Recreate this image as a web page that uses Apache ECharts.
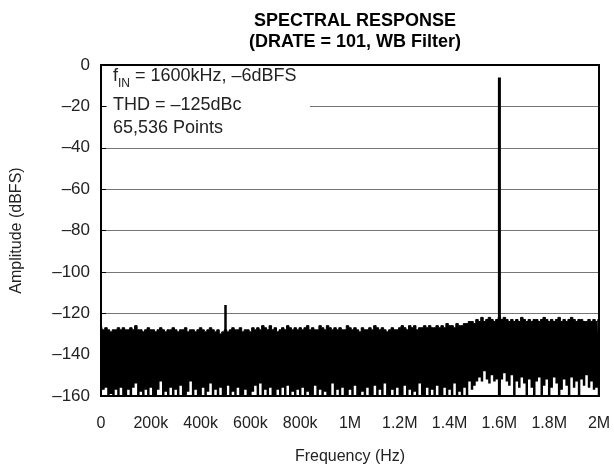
<!DOCTYPE html>
<html>
<head>
<meta charset="utf-8">
<script src="https://cdn.jsdelivr.net/npm/echarts@6/dist/echarts.min.js"></script>
<style>
  html, body { margin: 0; padding: 0; background: #fff; }
  #chart { width: 614px; height: 470px; }
</style>
</head>
<body>
<div id="chart"></div>
<script>
// Axis tick labels
const xTickValues = [0, 200000, 400000, 600000, 800000, 1000000, 1200000, 1400000, 1600000, 1800000, 2000000];
const xTickLabels = ['0', '200k', '400k', '600k', '800k', '1M', '1.2M', '1.4M', '1.6M', '1.8M', '2M'];
const yTickValues = [0, -20, -40, -60, -80, -100, -120, -140, -160];
const yTickLabels = ['0', '–20', '–40', '–60', '–80', '–100', '–120', '–140', '–160'];

// FFT noise floor, one reading every 10 kHz from 0 to 2 MHz (dBFS)
const binStepHz = 10000;
const noisePeak = [
  -125, -128, -127, -128, -129, -128, -128, -127, -128, -127,
  -128, -128, -127, -128, -126, -128, -128, -129, -128, -127,
  -128, -128, -129, -128, -127, -128, -129, -128, -128, -127,
  -128, -129, -128, -128, -127, -129, -128, -128, -129, -128,
  -127, -128, -129, -128, -127, -128, -129, -128, -130, -129,
  -128, -129, -128, -127, -128, -128, -127, -129, -128, -128,
  -129, -127, -128, -127, -128, -126, -127, -128, -126, -128,
  -127, -129, -128, -127, -128, -126, -127, -128, -127, -128,
  -127, -128, -127, -126, -128, -127, -128, -128, -126, -127,
  -128, -126, -127, -128, -127, -128, -127, -128, -128, -126,
  -127, -128, -127, -128, -129, -127, -128, -128, -127, -128,
  -126, -127, -128, -127, -128, -129, -128, -127, -128, -128,
  -127, -126, -127, -128, -126, -127, -126, -128, -127, -127,
  -126, -127, -126, -127, -127, -126, -127, -126, -127, -125,
  -126, -126, -127, -125, -126, -126, -125, -125, -124, -124,
  -125, -123, -124, -122, -124, -123, -122, -123, -124, -123,
  -122, -123, -122, -123, -124, -123, -124, -123, -124, -122,
  -123, -124, -123, -124, -123, -123, -124, -123, -122, -123,
  -124, -123, -124, -123, -122, -124, -123, -124, -123, -122,
  -123, -124, -123, -123, -124, -124, -123, -124, -123, -124,
  -123
];
const noiseTrough = [
  -160, -157, -156, -160, -159, -160, -157, -160, -156, -160,
  -160, -157, -160, -156, -154, -160, -158, -160, -157, -160,
  -156, -160, -160, -157, -153, -160, -158, -160, -156, -160,
  -157, -160, -155, -160, -160, -158, -153, -160, -157, -160,
  -160, -156, -160, -158, -154, -160, -157, -160, -156, -160,
  -160, -155, -160, -158, -160, -156, -160, -160, -157, -160,
  -160, -158, -155, -160, -154, -160, -157, -160, -156, -160,
  -160, -157, -160, -156, -160, -155, -160, -158, -160, -157,
  -160, -156, -160, -158, -160, -160, -155, -160, -157, -160,
  -158, -160, -160, -154, -160, -157, -160, -156, -160, -160,
  -157, -160, -155, -160, -160, -158, -160, -156, -160, -160,
  -155, -160, -157, -160, -154, -160, -160, -157, -160, -156,
  -160, -160, -155, -160, -157, -160, -158, -160, -154, -160,
  -160, -156, -160, -157, -160, -155, -160, -160, -156, -160,
  -157, -160, -154, -160, -158, -160, -156, -160, -153, -157,
  -155, -153, -151, -153, -148, -152, -154, -150, -153, -152,
  -154, -152, -149, -153, -155, -150, -160, -153, -156, -151,
  -154, -160, -152, -156, -160, -153, -151, -160, -155, -152,
  -160, -156, -151, -154, -160, -157, -152, -155, -160, -151,
  -156, -153, -160, -152, -155, -150, -156, -153, -157, -156,
  -160
];

// Fundamental tone and the spur near 500 kHz
const toneFreqHz = 1600000;
const toneLevel = -6;
const spurFreqHz = 500000;
const spurLevel = -116;
const floorLevel = -160;

const peakData = noisePeak.map((v, i) => [i * binStepHz, v]);
const troughData = noiseTrough.map((v, i) => [i * binStepHz, v]);

const FONT = '"Liberation Sans", Arial, Helvetica, sans-serif';

const chart = echarts.init(document.getElementById('chart'), null, { renderer: 'canvas' });

chart.setOption({
  animation: false,
  backgroundColor: '#fff',
  textStyle: { fontFamily: FONT },
  title: {
    text: 'SPECTRAL RESPONSE\n(DRATE = 101, WB Filter)',
    left: 350,
    top: 6,
    textAlign: 'center',
    textStyle: { fontFamily: FONT, fontSize: 18, fontWeight: 'bold', color: '#000', lineHeight: 21 }
  },
  grid: {
    left: 101, right: 15, top: 65, bottom: 71,
    show: true, borderColor: '#000', borderWidth: 2, z: 10,
    backgroundColor: 'transparent'
  },
  xAxis: {
    type: 'value',
    min: 0, max: 2000000, interval: 200000,
    name: 'Frequency (Hz)',
    nameLocation: 'middle',
    nameGap: 53,
    nameTextStyle: { fontFamily: FONT, fontSize: 16, color: '#222' },
    axisLine: { show: false },
    axisTick: { show: false },
    splitLine: { show: false },
    axisLabel: {
      margin: 20,
      fontFamily: FONT, fontSize: 16, color: '#222',
      formatter: v => xTickLabels[xTickValues.indexOf(v)] ?? ''
    }
  },
  yAxis: {
    type: 'value',
    min: -160, max: 0, interval: 20,
    name: 'Amplitude (dBFS)',
    nameLocation: 'middle',
    nameGap: 76,
    nameRotate: 90,
    nameTextStyle: { fontFamily: FONT, fontSize: 16, color: '#222' },
    axisLine: { show: false },
    axisTick: { show: true, inside: true, length: 5, lineStyle: { color: '#000', width: 1 } },
    splitLine: { show: true, lineStyle: { color: '#777', width: 1 } },
    axisLabel: {
      margin: 11,
      fontFamily: FONT, fontSize: 17, color: '#222',
      formatter: v => yTickLabels[yTickValues.indexOf(v)] ?? ''
    }
  },
  graphic: [
    {
      type: 'rect',
      z: 5,
      shape: { x: 107, y: 67, width: 203, height: 76 },
      style: { fill: '#fff' }
    },
    {
      type: 'text',
      z: 6,
      left: 113, top: 67,
      style: {
        text: '{n|f}{s|IN}{n| = 1600kHz, –6dBFS}',
        fontFamily: FONT,
        rich: {
          n: { fontFamily: FONT, fontSize: 18, fill: '#222', verticalAlign: 'bottom', lineHeight: 22 },
          s: { fontFamily: FONT, fontSize: 12, fill: '#222', verticalAlign: 'bottom', lineHeight: 22, padding: [0, 0, -5, 0] }
        }
      }
    },
    {
      type: 'text',
      z: 6,
      left: 113, top: 96,
      style: { text: 'THD = –125dBc', fontFamily: FONT, fontSize: 18, fill: '#222' }
    },
    {
      type: 'text',
      z: 6,
      left: 113, top: 119,
      style: { text: '65,536 Points', fontFamily: FONT, fontSize: 18, fill: '#222' }
    }
  ],
  series: [
    {
      name: 'noise peak',
      type: 'line',
      data: peakData,
      step: 'middle',
      symbol: 'none',
      z: 2,
      lineStyle: { color: '#000', width: 1 },
      areaStyle: { color: '#000', opacity: 1, origin: 'start' }
    },
    {
      name: 'noise trough',
      type: 'line',
      data: troughData,
      step: 'middle',
      symbol: 'none',
      z: 3,
      lineStyle: { width: 0, color: '#fff' },
      areaStyle: { color: '#fff', opacity: 1, origin: 'start' }
    },
    {
      name: 'spur',
      type: 'line',
      data: [[spurFreqHz, floorLevel], [spurFreqHz, spurLevel]],
      symbol: 'none',
      z: 4,
      lineStyle: { color: '#000', width: 2.5 }
    },
    {
      name: 'tone',
      type: 'line',
      data: [[toneFreqHz, floorLevel], [toneFreqHz, toneLevel]],
      symbol: 'none',
      z: 4,
      lineStyle: { color: '#000', width: 3 }
    }
  ]
});
</script>
</body>
</html>
